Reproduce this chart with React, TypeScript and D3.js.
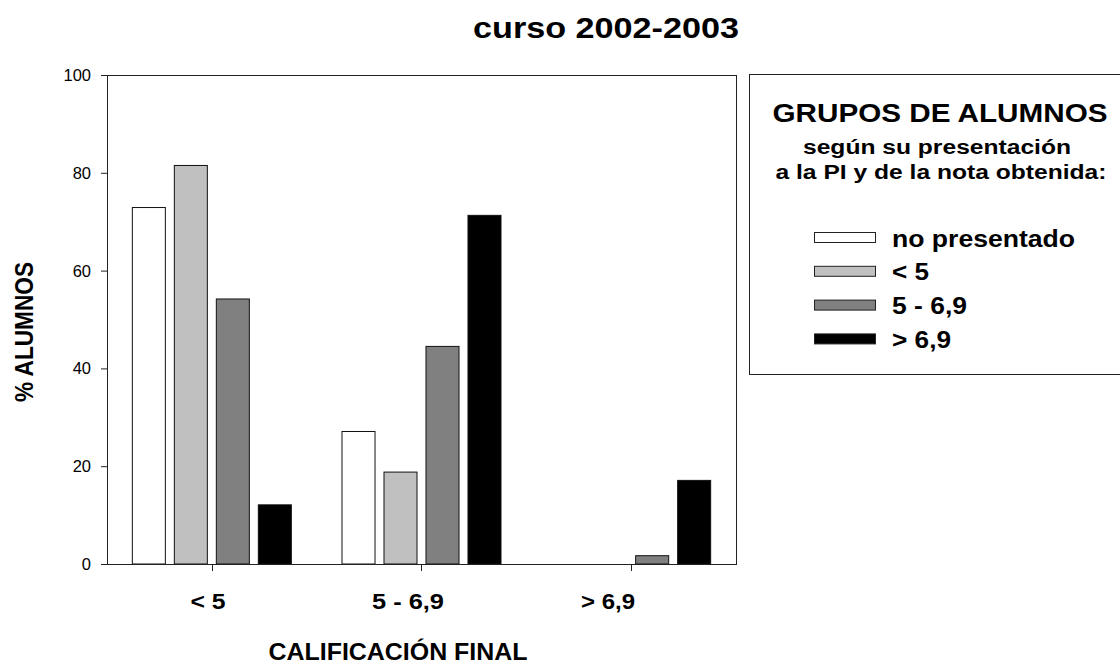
import React from "react";
import * as d3 from "d3";

const categories = ["< 5", "5 - 6,9", "> 6,9"];
const seriesNames = ["no presentado", "< 5", "5 - 6,9", "> 6,9"];
const seriesColors = ["#ffffff", "#c0c0c0", "#808080", "#000000"];
const noPresentado = [73, 27.2, 0];
const menos5 = [81.6, 18.9, 0];
const entre5y69 = [54.3, 44.6, 1.8];
const mas69 = [12.2, 71.4, 17.2];
const seriesValues = [noPresentado, menos5, entre5y69, mas69];
const yTicks = [0, 20, 40, 60, 80, 100];
const catLabelWidths = [35, 72, 54];
const legendLabelWidths = [183, 37, 75, 59];

const W = 1120;
const H = 664;
const FONT = "'Liberation Sans', Arial, Helvetica, sans-serif";

export default function App() {
  const left = 107;
  const right = 736;
  const top = 75;
  const bottom = 564;

  const y = d3.scaleLinear().domain([0, 100]).range([bottom, top]);
  const x0 = d3.scaleBand<string>().domain(categories).range([left, right]).padding(0);
  const x1 = d3
    .scaleBand<string>()
    .domain(seriesNames)
    .range([0, 160])
    .paddingInner(0.19)
    .paddingOuter(0);
  const xLab = d3.scalePoint<string>().domain(categories).range([208, 608]);

  return (
    <svg
      width={W}
      height={H}
      style={{ position: "absolute", left: 0, top: 0, background: "#fff" }}
      fontFamily={FONT}
    >
      <rect x={0} y={0} width={W} height={H} fill="#fff" />
      <text
        x={606}
        y={38}
        textAnchor="middle"
        fontSize={29}
        fontWeight="bold"
        textLength={266}
        lengthAdjust="spacingAndGlyphs"
      >
        curso 2002-2003
      </text>

      {categories.map((c, ci) => {
        const gx = (x0(c) as number) + x0.bandwidth() / 2 - 80;
        return (
          <g key={c}>
            {seriesNames.map((s, si) => {
              const v = seriesValues[si][ci];
              if (!v) return null;
              const bx = gx + (x1(s) as number);
              return (
                <rect
                  key={s}
                  x={bx + 0.5}
                  y={y(v) + 0.5}
                  width={x1.bandwidth() - 1}
                  height={y(0) - y(v) - 0.5}
                  fill={seriesColors[si]}
                  stroke="#111"
                  strokeWidth={1}
                />
              );
            })}
          </g>
        );
      })}

      <rect
        x={left + 0.5}
        y={top + 0.5}
        width={right - left}
        height={bottom - top}
        fill="none"
        stroke="#222"
        strokeWidth={1}
      />

      {yTicks.map((t) => (
        <g key={t}>
          <line x1={left - 6} x2={left} y1={y(t) + 0.5} y2={y(t) + 0.5} stroke="#222" />
          <text x={91} y={y(t)} dy="0.36em" textAnchor="end" fontSize={16.5}>
            {t}
          </text>
        </g>
      ))}

      {categories.map((c, ci) => {
        const cx = Math.round((x0(c) as number) + x0.bandwidth() / 2) + 0.5;
        return (
          <g key={c}>
            <line x1={cx} x2={cx} y1={bottom} y2={bottom + 7} stroke="#222" />
            <text
              x={xLab(c)}
              y={609}
              textAnchor="middle"
              fontSize={22}
              fontWeight="bold"
              textLength={catLabelWidths[ci]}
              lengthAdjust="spacingAndGlyphs"
            >
              {c}
            </text>
          </g>
        );
      })}

      <text
        x={398}
        y={660}
        textAnchor="middle"
        fontSize={24.5}
        fontWeight="bold"
        textLength={259}
        lengthAdjust="spacingAndGlyphs"
      >
        CALIFICACIÓN FINAL
      </text>
      <text
        transform="translate(33,332) rotate(-90)"
        textAnchor="middle"
        fontSize={25}
        fontWeight="bold"
        textLength={140}
        lengthAdjust="spacingAndGlyphs"
      >
        % ALUMNOS
      </text>

      <rect x={749.5} y={74.5} width={400} height={300} fill="none" stroke="#222" />
      <text
        x={940}
        y={122}
        textAnchor="middle"
        fontSize={25}
        fontWeight="bold"
        textLength={335}
        lengthAdjust="spacingAndGlyphs"
      >
        GRUPOS DE ALUMNOS
      </text>
      <text
        x={937}
        y={154}
        textAnchor="middle"
        fontSize={20}
        fontWeight="bold"
        textLength={268}
        lengthAdjust="spacingAndGlyphs"
      >
        según su presentación
      </text>
      <text
        x={941}
        y={179}
        textAnchor="middle"
        fontSize={20}
        fontWeight="bold"
        textLength={331}
        lengthAdjust="spacingAndGlyphs"
      >
        a la PI y de la nota obtenida:
      </text>
      {seriesNames.map((s, i) => {
        const ry = 232.5 + i * 33.8;
        return (
          <g key={s}>
            <rect
              x={814.5}
              y={ry}
              width={61}
              height={10}
              fill={seriesColors[i]}
              stroke="#222"
            />
            <text
              x={892}
              y={ry + 14}
              fontSize={23}
              fontWeight="bold"
              textLength={legendLabelWidths[i]}
              lengthAdjust="spacingAndGlyphs"
            >
              {s}
            </text>
          </g>
        );
      })}
    </svg>
  );
}
